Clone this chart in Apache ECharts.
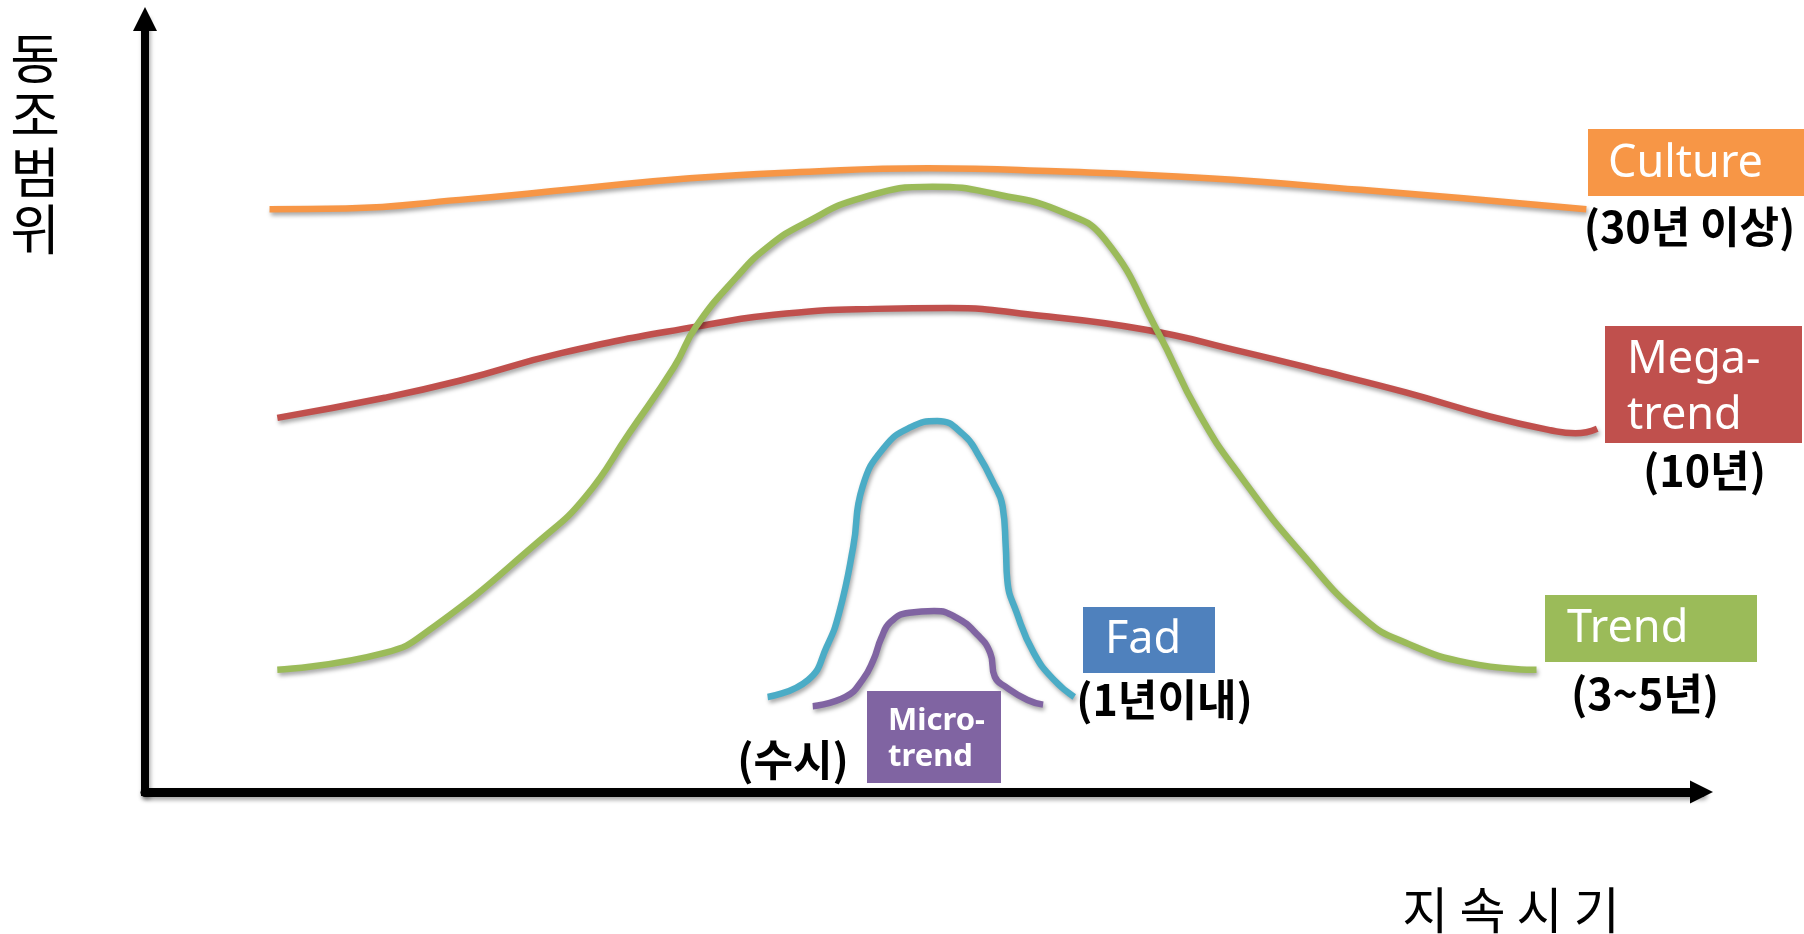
<!DOCTYPE html>
<html>
<head>
<meta charset="utf-8">
<script src="https://cdn.jsdelivr.net/npm/echarts@6/dist/echarts.min.js"></script>
<style>
  html, body { margin: 0; padding: 0; background: #ffffff; }
  #chart { width: 1804px; height: 934px; }
</style>
</head>
<body>
<div id="chart"></div>
<script>
// Each curve is a list of [지속시기, 동조범위] pairs, both measured on a 0–100 scale.
const cultureData = [
  [8.0, 75.4], [12.9, 75.5], [20.2, 76.6], [27.6, 78.0], [35.0, 79.4], [42.1, 80.2],
  [50.3, 80.7], [58.5, 80.3], [68.3, 79.4], [78.1, 77.9], [84.7, 76.8], [92.6, 75.4]
];
const megaTrendData = [
  [8.5, 48.4], [15.4, 51.0], [20.2, 53.2], [26.8, 56.8], [35.4, 60.2], [41.2, 61.9],
  [46.9, 62.5], [51.7, 62.6], [57.1, 61.7], [64.3, 59.8], [70.4, 57.0], [75.7, 54.4],
  [81.0, 51.7], [86.4, 48.6], [90.3, 46.8], [91.9, 46.4], [93.3, 47.0]
];
const trendData = [
  [8.5, 15.8], [15.4, 18.0], [18.3, 21.0], [25.4, 32.6], [28.3, 38.2], [31.1, 46.4],
  [34.0, 55.0], [35.4, 60.2], [38.0, 66.6], [40.0, 70.5], [42.4, 73.6], [46.1, 76.9],
  [50.6, 78.3], [55.0, 77.2], [59.1, 74.9], [61.7, 71.4], [65.0, 59.8], [67.7, 49.0],
  [70.4, 40.8], [74.3, 30.9], [78.4, 22.3], [81.0, 19.3], [85.0, 16.7], [89.4, 15.8]
];
const fadData = [
  [40.0, 12.3], [42.6, 14.5], [43.8, 18.8], [44.6, 23.2], [45.5, 31.7], [46.1, 39.5],
  [47.5, 44.6], [49.2, 47.2], [50.9, 48.0], [52.6, 46.2], [53.6, 43.4], [54.4, 40.4],
  [55.1, 36.9], [55.3, 31.7], [55.4, 27.4], [56.0, 23.2], [57.1, 18.0], [58.4, 14.5],
  [59.7, 12.3]
];
const microTrendData = [
  [42.9, 11.1], [45.0, 12.3], [46.1, 14.5], [46.8, 17.1], [47.3, 19.9], [47.9, 22.0],
  [49.1, 23.2], [50.7, 23.4], [52.1, 22.6], [53.5, 20.3], [54.3, 18.0], [54.6, 14.9],
  [55.3, 13.6], [56.7, 11.9], [57.7, 11.3]
];

const seriesNames = ['Culture', 'Mega-trend', 'Trend', 'Fad', 'Micro-trend'];
const boxLabels = ['Culture', 'Mega-\ntrend', 'Trend', 'Fad', 'Micro-\ntrend'];
const periodLabels = ['(30년 이상)', '(10년)', '(3~5년)', '(1년이내)', '(수시)'];
const yAxisTitle = '동조범위';
const xAxisTitle = '지 속 시 기';

// Styling and placement
const lineColors = ['#F79646', '#C0504D', '#9BBB59', '#4BACC6', '#8064A2'];
const boxColors = ['#F79646', '#C0504D', '#9BBB59', '#4F81BD', '#8064A2'];
const boxLayout = [
  { rect: [1588, 129, 216, 67], text: [1608, 164], size: 45, weight: 'normal', lh: 56 },
  { rect: [1605, 326, 197, 117], text: [1627, 388], size: 45, weight: 'normal', lh: 55.5 },
  { rect: [1545, 595, 212, 67], text: [1567, 629.5], size: 45, weight: 'normal', lh: 56 },
  { rect: [1083, 607, 132, 66], text: [1105, 640.5], size: 45, weight: 'normal', lh: 56 },
  { rect: [867, 691, 134, 92], text: [888, 739], size: 31, weight: 'bold', lh: 36 }
];
const periodLayout = [[1689.5, 227], [1704.5, 470.5], [1645, 694], [1164.5, 699.5], [793, 760]];
const curveData = [cultureData, megaTrendData, trendData, fadData, microTrendData];
const drawOrder = [0, 1, 2, 3, 4];

const latinFont = "'Noto Sans', 'Open Sans', sans-serif";
const cjkFont = "'Noto Sans CJK KR', 'Noto Sans', sans-serif";

const shadow = {
  shadowColor: 'rgba(0,0,0,0.35)',
  shadowBlur: 4,
  shadowOffsetX: 1.5,
  shadowOffsetY: 3
};

const series = drawOrder.map(function (i) {
  return {
    name: seriesNames[i],
    type: 'line',
    data: curveData[i],
    smooth: 0.5,
    showSymbol: false,
    symbol: 'none',
    silent: true,
    z: 2 + i,
    lineStyle: Object.assign({ color: lineColors[i], width: 6.5, cap: 'butt' }, shadow)
  };
});

const graphics = [];
boxLayout.forEach(function (b, i) {
  graphics.push({
    type: 'rect',
    shape: { x: b.rect[0], y: b.rect[1], width: b.rect[2], height: b.rect[3] },
    style: { fill: boxColors[i] },
    z: 20
  });
  graphics.push({
    type: 'text',
    x: b.text[0],
    y: b.text[1],
    z: 21,
    style: {
      text: boxLabels[i],
      fill: '#ffffff',
      fontSize: b.size,
      fontWeight: b.weight,
      fontFamily: latinFont,
      lineHeight: b.lh,
      align: 'left',
      verticalAlign: 'middle'
    }
  });
});
periodLayout.forEach(function (p, i) {
  graphics.push({
    type: 'text',
    x: p[0],
    y: p[1],
    z: 21,
    style: {
      text: periodLabels[i],
      fill: '#000000',
      fontSize: 43,
      fontWeight: 'bold',
      fontFamily: cjkFont,
      align: 'center',
      verticalAlign: 'middle'
    }
  });
});
// Vertical axis title, one syllable per line
graphics.push({
  type: 'text',
  x: 35,
  y: 144,
  z: 21,
  style: {
    text: yAxisTitle.split('').join('\n'),
    fill: '#000000',
    fontSize: 54,
    fontFamily: cjkFont,
    lineHeight: 57.3,
    align: 'center',
    verticalAlign: 'middle'
  }
});
graphics.push({
  type: 'text',
  x: 1511,
  y: 909.5,
  z: 21,
  style: {
    text: xAxisTitle,
    fill: '#000000',
    fontSize: 50,
    fontFamily: cjkFont,
    align: 'center',
    verticalAlign: 'middle'
  }
});

const chart = echarts.init(document.getElementById('chart'), null, { renderer: 'canvas' });
chart.setOption({
  animation: false,
  backgroundColor: '#ffffff',
  grid: { left: 145, right: 102.5, top: 19, bottom: 142, containLabel: false },
  xAxis: {
    type: 'value',
    min: 0,
    max: 100,
    axisLine: {
      show: true,
      symbol: ['none', 'triangle'],
      symbolSize: [23, 23],
      lineStyle: Object.assign({ color: '#000000', width: 9 }, shadow)
    },
    axisTick: { show: false },
    axisLabel: { show: false },
    splitLine: { show: false }
  },
  yAxis: {
    type: 'value',
    min: 0,
    max: 100,
    axisLine: {
      show: true,
      symbol: ['none', 'triangle'],
      symbolSize: [24, 24],
      lineStyle: Object.assign({ color: '#000000', width: 8, cap: 'square' }, shadow)
    },
    axisTick: { show: false },
    axisLabel: { show: false },
    splitLine: { show: false }
  },
  series: series,
  graphic: graphics
});
</script>
</body>
</html>
